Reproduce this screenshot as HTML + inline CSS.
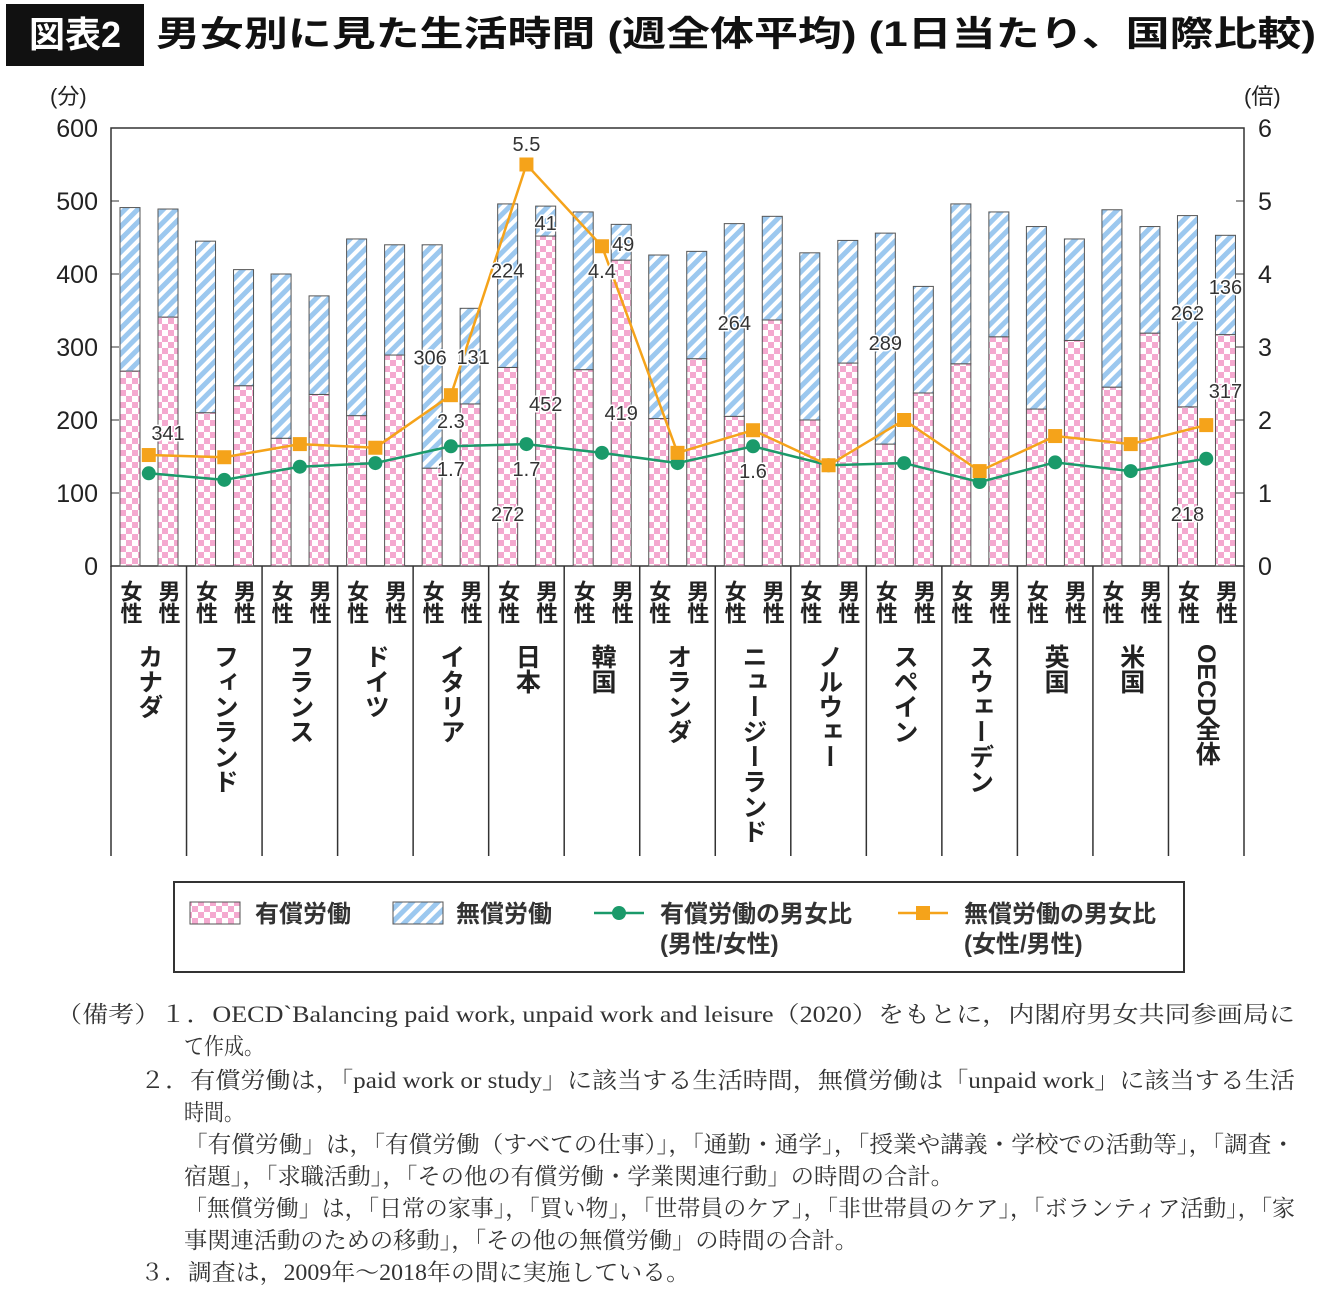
<!DOCTYPE html>
<html><head><meta charset="utf-8">
<style>
body{margin:0;background:#fff;width:1340px;height:1313px;overflow:hidden;font-family:"Liberation Sans","Noto Sans CJK JP",sans-serif;}
#title-box{position:absolute;left:6px;top:4px;width:138px;height:62px;background:#111;color:#fff;font-size:36px;font-weight:bold;line-height:62px;text-align:center;}
#title{position:absolute;left:156px;top:4px;font-size:35px;font-weight:bold;line-height:62px;color:#111;white-space:nowrap;transform-origin:0 50%;}
.note{position:absolute;font-family:"Liberation Serif","Noto Serif CJK SC",serif;font-size:23px;color:#333;white-space:nowrap;transform-origin:0 0;}
</style></head><body>
<div id="title-box">図表2</div>
<div id="title" data-w="1160">男女別に見た生活時間 (週全体平均) (1日当たり、国際比較)</div>
<svg id="chart" width="1340" height="990" style="position:absolute;left:0;top:0">
<defs>
<pattern id="pink" width="12" height="12" patternUnits="userSpaceOnUse">
<rect width="12" height="12" fill="#f4a9cf"/><rect width="6" height="6" fill="#fff"/><rect x="6" y="6" width="6" height="6" fill="#fff"/></pattern>
<pattern id="blue" width="9" height="9" patternUnits="userSpaceOnUse" patternTransform="rotate(45)">
<rect width="9" height="9" fill="#fff"/><rect width="5" height="9" fill="#9cc8ef"/></pattern>
</defs>
</svg>
<div class="note" data-w="1239" style="left:56px;top:996px">（備考）１．OECD`Balancing paid work, unpaid work and leisure（2020）をもとに，内閣府男女共同参画局に</div>
<div class="note" data-w="80" style="left:184px;top:1028px">て作成。</div>
<div class="note" data-w="1155" style="left:140px;top:1062px">２．有償労働は，「paid work or study」に該当する生活時間，無償労働は「unpaid work」に該当する生活</div>
<div class="note" data-w="60" style="left:184px;top:1094px">時間。</div>
<div class="note" data-w="1111" style="left:184px;top:1126px">「有償労働」は，「有償労働（すべての仕事）」，「通勤・通学」，「授業や講義・学校での活動等」，「調査・</div>
<div class="note" data-w="770" style="left:184px;top:1158px">宿題」，「求職活動」，「その他の有償労働・学業関連行動」の時間の合計。</div>
<div class="note" data-w="1111" style="left:184px;top:1190px">「無償労働」は，「日常の家事」，「買い物」，「世帯員のケア」，「非世帯員のケア」，「ボランティア活動」，「家</div>
<div class="note" data-w="674" style="left:184px;top:1222px">事関連活動のための移動」，「その他の無償労働」の時間の合計。</div>
<div class="note" data-w="550" style="left:140px;top:1254px">３．調査は，2009年～2018年の間に実施している。</div>
<script>
const countries=["カナダ","フィンランド","フランス","ドイツ","イタリア","日本","韓国","オランダ","ニュージーランド","ノルウェー","スペイン","スウェーデン","英国","米国","OECD全体"];
const femalePaid=[267,210,175,206,134,272,269,202,205,200,167,277,215,245,218];
const femaleUnpaid=[224,235,225,242,306,224,216,224,264,229,289,219,250,243,262];
const malePaid=[341,247,235,289,222,452,419,284,337,278,237,314,309,319,317];
const maleUnpaid=[148,159,135,151,131,41,49,147,142,168,146,171,139,146,136];
const paidRatio=[1.27,1.18,1.36,1.41,1.64,1.67,1.55,1.41,1.64,1.38,1.41,1.15,1.42,1.30,1.47];
const unpaidRatio=[1.52,1.49,1.67,1.62,2.34,5.5,4.38,1.55,1.86,1.38,2.0,1.30,1.78,1.67,1.93];
const leftTicks=[0,100,200,300,400,500,600];
const rightTicks=[0,1,2,3,4,5,6];
document.querySelectorAll('[data-w]').forEach(d=>{
 const w=d.getBoundingClientRect().width;
 d.style.transform='scaleX('+(parseFloat(d.getAttribute('data-w'))/w)+')';
});
const ns="http://www.w3.org/2000/svg";
const svg=document.getElementById('chart');
const X0=111,X1=1244,Y0=566,Y1=128,G=(X1-X0)/countries.length;
const y=v=>Y0-(v/600)*(Y0-Y1);
const yr=v=>Y0-(v/6)*(Y0-Y1);
const gx=i=>X0+G*i+G/2;
function el(t,a,txt){const e=document.createElementNS(ns,t);for(const k in a)e.setAttribute(k,a[k]);if(txt!==undefined)e.textContent=txt;svg.appendChild(e);return e;}
const fr=el('rect',{x:X0,y:Y1,width:X1-X0,height:Y0-Y1,fill:'none',stroke:'#333','stroke-width':1.5});


leftTicks.forEach(t=>{
 const tx=el('text',{x:98,y:y(t)+9,'text-anchor':'end','font-size':25,fill:'#222'},t);
 
 
 el('line',{x1:X0,x2:X0+8,y1:y(t),y2:y(t),stroke:'#333'});
});
rightTicks.forEach(t=>{
 const tx=el('text',{x:1258,y:yr(t)+9,'font-size':25,fill:'#222'},t);
 
 
 el('line',{x1:X1-8,x2:X1,y1:yr(t),y2:yr(t),stroke:'#333'});
});
let u=el('text',{x:50,y:104,'font-size':22,fill:'#222'},'(分)');


u=el('text',{x:1244,y:104,'font-size':22,fill:'#222'},'(倍)');


const BW=20;
function bar(cx,paid,unpaid,nm){
 const r1=el('rect',{x:cx-BW/2,y:y(paid),width:BW,height:y(0)-y(paid),fill:'url(#pink)',stroke:'#555','stroke-width':1});
 
 
 const r2=el('rect',{x:cx-BW/2,y:y(paid+unpaid),width:BW,height:y(paid)-y(paid+unpaid),fill:'url(#blue)',stroke:'#555','stroke-width':1});
 
 
}
countries.forEach((c,i)=>{
 const fx=X0+G*i+19, mx=X0+G*i+57;
 bar(fx,femalePaid[i],femaleUnpaid[i],'female');
 bar(mx,malePaid[i],maleUnpaid[i],'male');
 el('line',{x1:X0+G*i,x2:X0+G*i,y1:Y0,y2:856,stroke:'#333','stroke-width':1.5});
 [['女性',fx],['男性',mx]].forEach(([s,xx])=>{
  const t=el('text',{x:xx,y:580,'font-size':22,fill:'#222','writing-mode':'tb','text-anchor':'start','font-weight':'bold'},s);
  
  
 });
 const t=el('text',{x:gx(i),y:644,'font-size':25,fill:'#222','writing-mode':'tb','font-weight':'bold'},c);
 
 
});
el('line',{x1:X1,x2:X1,y1:Y0,y2:856,stroke:'#333','stroke-width':1.5});
function line(arr,color,marker,nm){
 const pts=arr.map((v,i)=>gx(i)+','+yr(v)).join(' ');
 const p=el('polyline',{points:pts,fill:'none',stroke:color,'stroke-width':2.5});
 
 
 arr.forEach((v,i)=>{
  const m=marker==='c'?el('circle',{cx:gx(i),cy:yr(v),r:7,fill:color}):el('rect',{x:gx(i)-7,y:yr(v)-7,width:14,height:14,fill:color});
  
  
 });
}
line(paidRatio,'#1a9a6a','c','paid-ratio');
line(unpaidRatio,'#f5a31a','s','unpaid-ratio');
const fX=i=>X0+G*i+19, mX=i=>X0+G*i+57;
const ann=[
 [malePaid[0],mX(0),440],
 [femaleUnpaid[4],fX(4)-2,y(femalePaid[4]+femaleUnpaid[4]/2)+8],
 [maleUnpaid[4],mX(4)+3,y(malePaid[4]+maleUnpaid[4]/2)+8],
 ['2.3',gx(4),428],['1.7',gx(4),476],
 [femaleUnpaid[5],fX(5),y(femalePaid[5]+femaleUnpaid[5]*0.6)+8],[femalePaid[5],fX(5),521],
 [maleUnpaid[5],mX(5),230],[malePaid[5],mX(5),411],
 ['5.5',gx(5),151],['1.7',gx(5),476],
 ['4.4',gx(6),278],[maleUnpaid[6],mX(6)+2,251],[malePaid[6],mX(6),420],
 [femaleUnpaid[8],fX(8),330],['1.6',gx(8),478],
 [femaleUnpaid[10],fX(10),350],
 [femaleUnpaid[14],fX(14),320],[femalePaid[14],fX(14),521],
 [maleUnpaid[14],mX(14),294],[malePaid[14],mX(14),398]
];
ann.forEach(a=>{
 const t=el('text',{x:a[1],y:a[2],'font-size':20,'text-anchor':'middle',fill:'#333',stroke:'#fff','stroke-width':3,'paint-order':'stroke'},a[0]);
 
 
});
const lg=el('rect',{x:174,y:882,width:1010,height:90,fill:'#fff',stroke:'#333','stroke-width':2});


el('rect',{x:190,y:902,width:50,height:22,fill:'url(#pink)',stroke:'#555'});
el('rect',{x:393,y:902,width:50,height:22,fill:'url(#blue)',stroke:'#555'});
el('line',{x1:594,x2:644,y1:913,y2:913,stroke:'#1a9a6a','stroke-width':2.5});
el('circle',{cx:619,cy:913,r:7,fill:'#1a9a6a'});
el('line',{x1:898,x2:948,y1:913,y2:913,stroke:'#f5a31a','stroke-width':2.5});
el('rect',{x:916,y:906,width:14,height:14,fill:'#f5a31a'});
[['有償労働',255,922],['無償労働',456,922],['有償労働の男女比',660,922],['(男性/女性)',660,952],['無償労働の男女比',964,922],['(女性/男性)',964,952]].forEach(a=>{
 const t=el('text',{x:a[1],y:a[2],'font-size':24,'font-weight':'bold',fill:'#333'},a[0]);
 
 
});
</script>
</body></html>
